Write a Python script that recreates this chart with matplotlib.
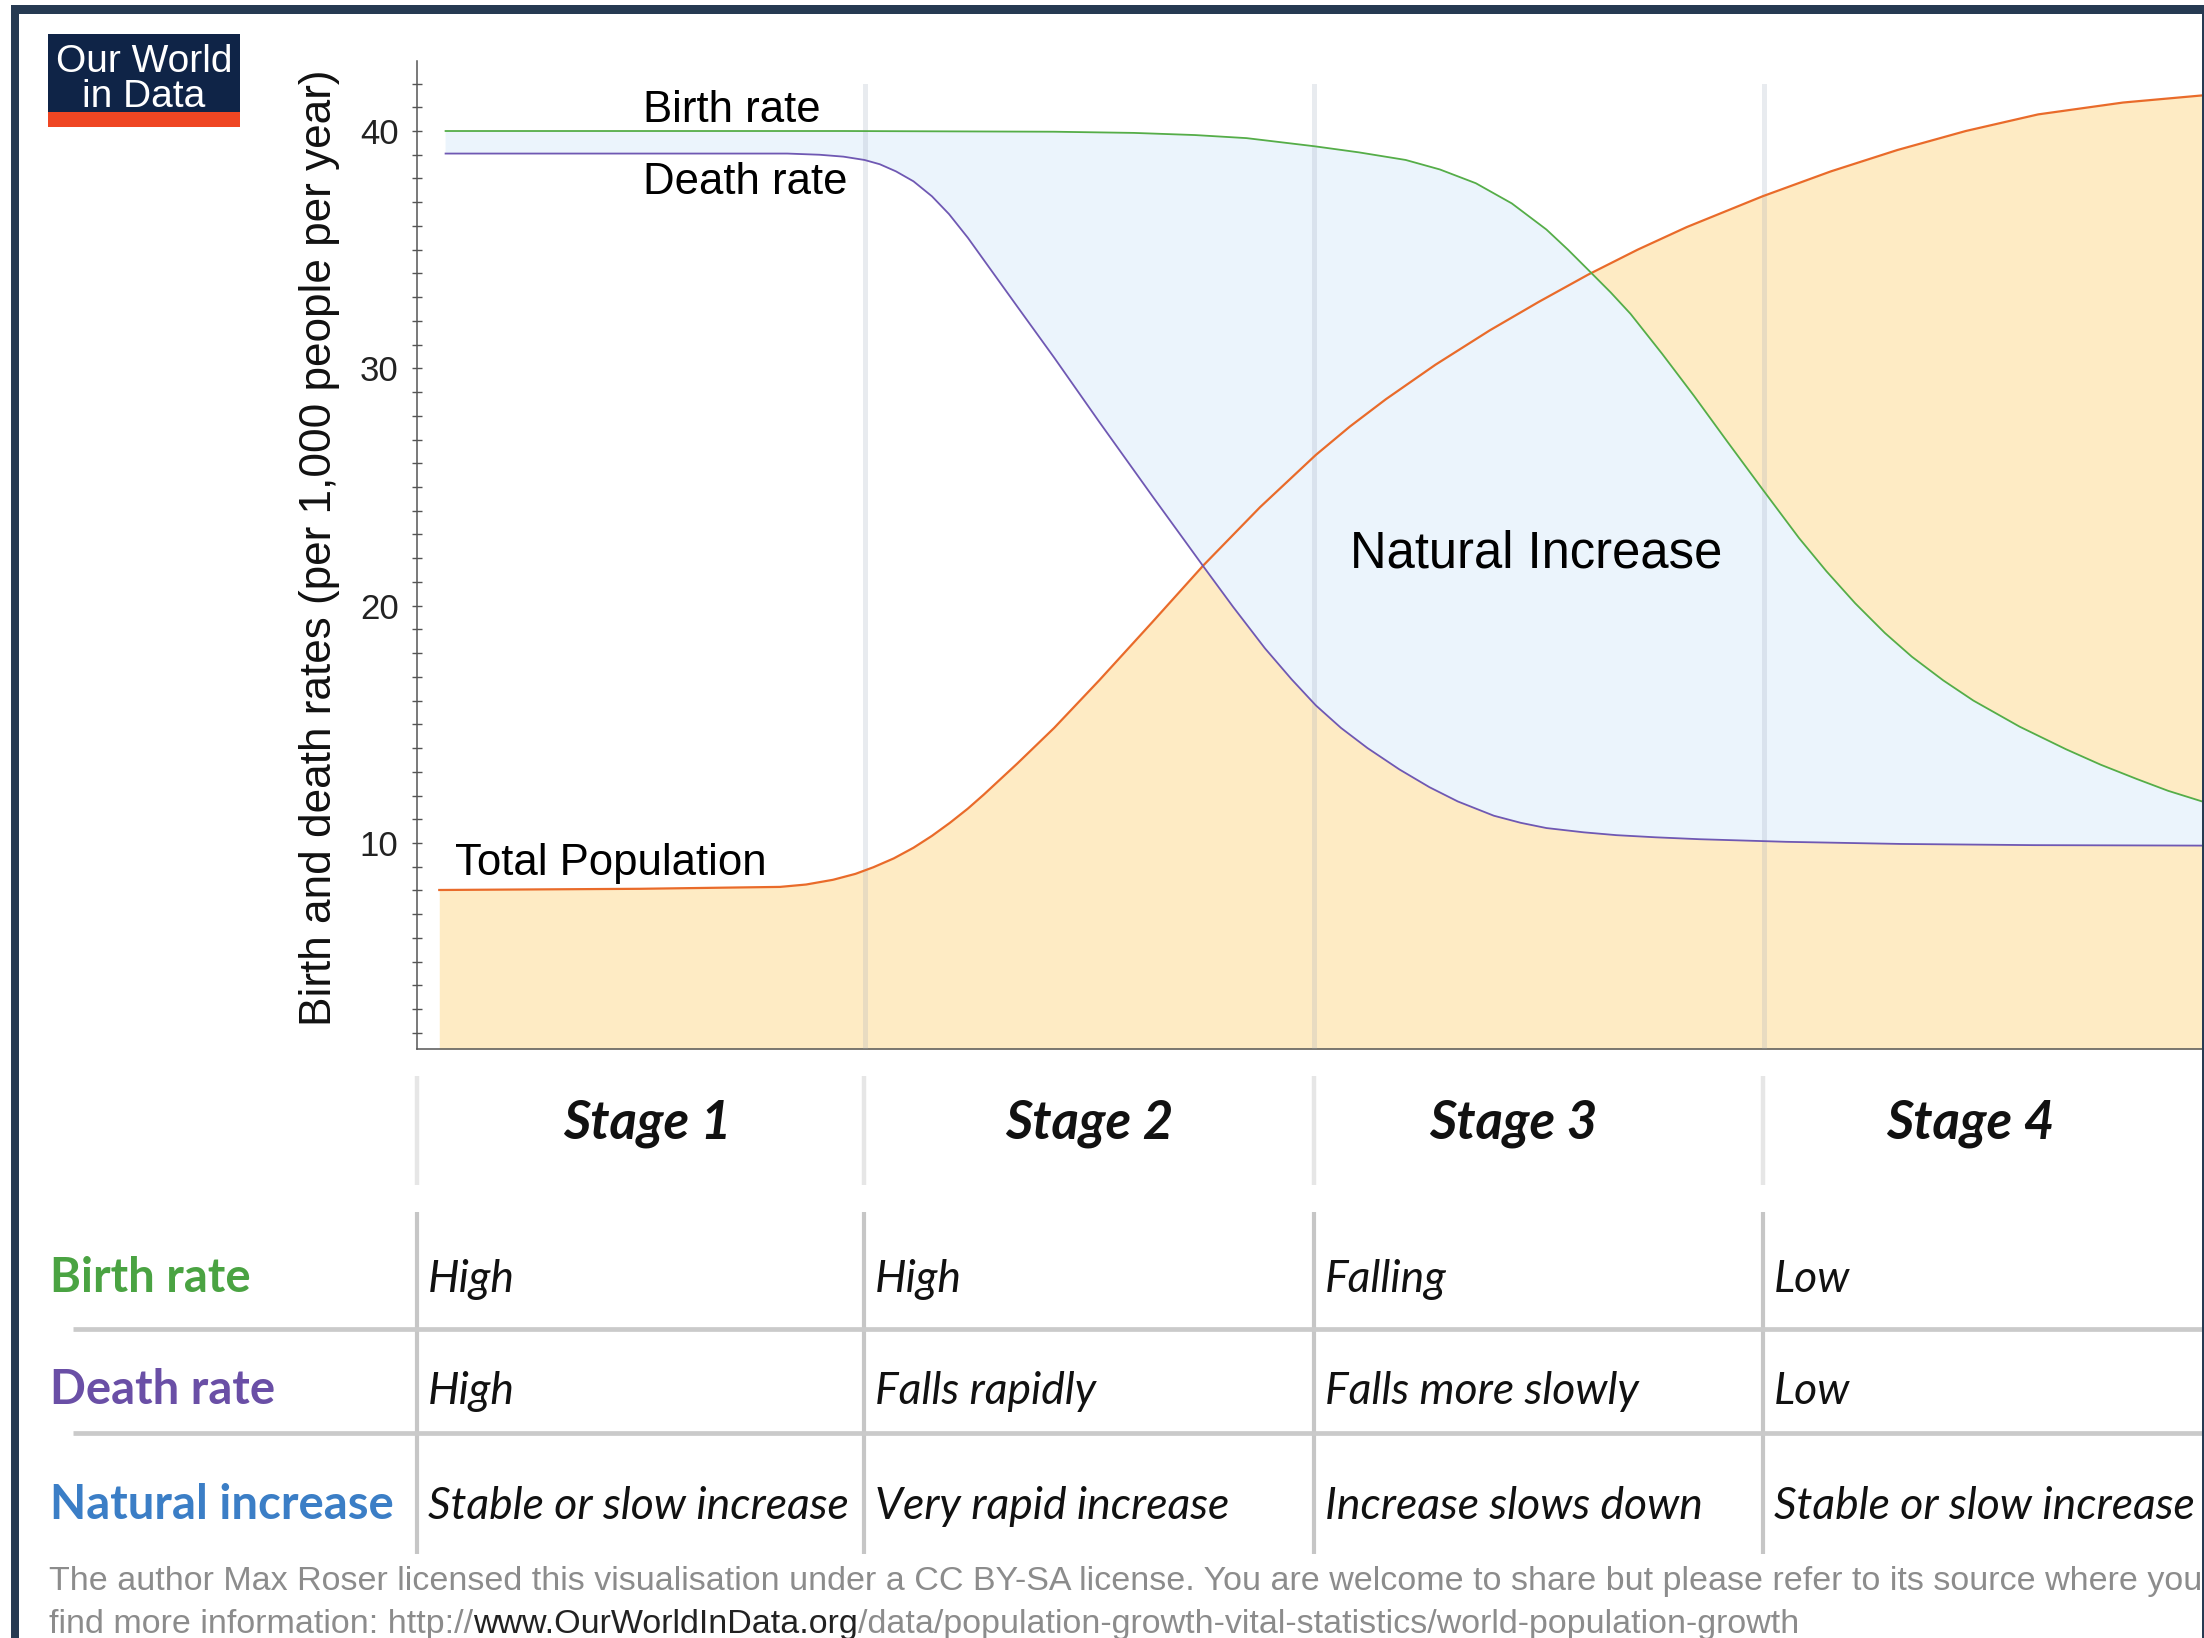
import matplotlib
matplotlib.use('Agg')
import matplotlib.pyplot as plt
from matplotlib import font_manager
from matplotlib.patches import Rectangle
from matplotlib.ticker import FixedLocator, MultipleLocator


# Curves: x = stage position (0..4), y = rate per 1,000 people
birth_x = [0.068, 0.953, 1.422, 1.6, 1.735, 1.85, 2.0, 2.1, 2.204, 2.28, 2.36, 2.44,
           2.517, 2.565, 2.61, 2.66, 2.704, 2.775, 2.845, 2.92, 2.998, 3.079, 3.14,
           3.204, 3.27, 3.33, 3.4, 3.467, 3.57, 3.673, 3.75, 3.83, 3.9, 3.976]
birth_y = [40.0, 40.0, 39.97, 39.92, 39.83, 39.7, 39.36, 39.1, 38.78, 38.38, 37.8, 36.95,
           35.85, 35.0, 34.15, 33.2, 32.3, 30.6, 28.85, 26.9, 24.9, 22.85, 21.45,
           20.1, 18.85, 17.85, 16.85, 16.0, 14.9, 13.95, 13.3, 12.7, 12.2, 11.75]

death_x = [0.068, 0.828, 0.9, 0.953, 1.0, 1.034, 1.07, 1.109, 1.15, 1.188, 1.23, 1.266,
           1.34, 1.422, 1.522, 1.641, 1.754, 1.82, 1.891, 1.95, 2.004, 2.06, 2.119,
           2.19, 2.257, 2.32, 2.4, 2.46, 2.517, 2.6, 2.673, 2.76, 2.857, 3.05, 3.305,
           3.6, 3.976]
death_y = [39.05, 39.05, 39.0, 38.92, 38.78, 38.6, 38.3, 37.88, 37.25, 36.5, 35.5, 34.55,
           32.6, 30.45, 27.75, 24.6, 21.65, 19.95, 18.2, 16.9, 15.8, 14.85, 14.0,
           13.1, 12.35, 11.75, 11.15, 10.85, 10.63, 10.45, 10.33, 10.24, 10.16, 10.05, 9.96,
           9.91, 9.89]

pop_x = [0.054, 0.5, 0.812, 0.87, 0.93, 0.98, 1.02, 1.065, 1.109, 1.15, 1.19, 1.23,
         1.266, 1.34, 1.422, 1.522, 1.64, 1.754, 1.88, 2.004, 2.08, 2.16, 2.27, 2.391,
         2.5, 2.61, 2.72, 2.829, 2.998, 3.15, 3.298, 3.45, 3.611, 3.8, 3.976]
pop_y = [8.02, 8.07, 8.15, 8.25, 8.45, 8.7, 8.98, 9.35, 9.8, 10.3, 10.85, 11.45,
         12.05, 13.35, 14.85, 16.85, 19.3, 21.7, 24.15, 26.35, 27.55, 28.7, 30.15, 31.6,
         32.8, 33.95, 35.0, 35.95, 37.25, 38.3, 39.2, 40.0, 40.7, 41.2, 41.5]

stages = ['Stage 1', 'Stage 2', 'Stage 3', 'Stage 4']
row_labels = ['Birth rate', 'Death rate', 'Natural increase']
cells = [
    ['High', 'High', 'Falling', 'Low'],
    ['High', 'Falls rapidly', 'Falls more slowly', 'Low'],
    ['Stable or slow increase', 'Very rapid increase', 'Increase slows down',
     'Stable or slow increase'],
]
y_ticks = [10, 20, 30, 40]

# colours
green = '#55ad48'
purple = '#6f58b3'
orange = '#e96b2a'
green_txt = '#4aa342'
purple_txt = '#6a4fa6'
blue_txt = '#3b7ec6'
frame_col = '#263a52'


def have(name):
    try:
        font_manager.findfont(font_manager.FontProperties(family=name),
                              fallback_to_default=False)
        return True
    except ValueError:
        return False


sans = 'Liberation Sans'
humanist = 'Lato' if have('Lato') else 'Open Sans'

W, H = 2204, 1638
fig = plt.figure(figsize=(W / 100, H / 100), dpi=100)
fig.patch.set_facecolor('white')

# background axes in pixel units for table, logo and footer
bg = fig.add_axes([0, 0, 1, 1], zorder=0)
bg.set_xlim(0, W)
bg.set_ylim(H, 0)
bg.axis('off')

# main chart
ax_l, ax_r, ax_t, ax_b = 417, 2202, 61, 1049
ax = fig.add_axes([ax_l / W, 1 - ax_b / H, (ax_r - ax_l) / W, (ax_b - ax_t) / H], zorder=1)
ax.set_facecolor('none')
x0, unit = 415, 449.5
ax.set_xlim((ax_l - x0) / unit, (ax_r - x0) / unit)
y_lo, y_hi = 1.32, 42.95
ax.set_ylim(y_lo, y_hi)

ax.fill_between(pop_x, pop_y, y_lo, color='#feebc4', lw=0, zorder=1)
ax.fill(birth_x + death_x[::-1], birth_y + death_y[::-1], color='#ebf4fc', lw=0, zorder=2)
for s in [1, 2, 3]:
    ax.axvline(s, ymin=0, ymax=(ax_b - 86) / (ax_b - ax_t), color='#9aa5b8',
               alpha=0.22, lw=3.6, zorder=3)
ax.plot(pop_x, pop_y, color=orange, lw=1.6, zorder=4)
ax.plot(death_x, death_y, color=purple, lw=1.3, zorder=4)
ax.plot(birth_x, birth_y, color=green, lw=1.3, zorder=4)

for side in ['top', 'right']:
    ax.spines[side].set_visible(False)
for side in ['left', 'bottom']:
    ax.spines[side].set_color('#555555')
    ax.spines[side].set_linewidth(1.1)
ax.set_xticks([])
ax.yaxis.set_major_locator(FixedLocator(y_ticks))
ax.yaxis.set_minor_locator(MultipleLocator(1))
ax.tick_params(axis='y', which='both', direction='inout', length=6.5, width=1.0,
               color='#555555', labelsize=25, pad=10, labelcolor='#222222')
for lab in ax.get_yticklabels():
    lab.set_family(sans)

# labels inside the chart (pixel coordinates)
ax.text(643, 122, 'Birth rate', transform=bg.transData, fontsize=31.5, family=sans,
        va='baseline', zorder=5)
ax.text(643, 194, 'Death rate', transform=bg.transData, fontsize=31.5, family=sans,
        va='baseline', zorder=5)
ax.text(455, 875, 'Total Population', transform=bg.transData, fontsize=31.5, family=sans,
        va='baseline', zorder=5)
ax.text(1536, 568, 'Natural Increase', transform=bg.transData, fontsize=36.5, family=sans,
        ha='center', va='baseline', zorder=5)

bg.text(320, 548, 'Birth and death rates (per 1,000 people per year)', rotation=90,
        fontsize=31.8, family=sans, ha='center', va='center', color='#111111')

# logo
bg.add_patch(Rectangle((48, 34), 192, 78, color='#0f2447', lw=0))
bg.add_patch(Rectangle((48, 112), 192, 15, color='#ef4623', lw=0))
bg.text(144, 72, 'Our World', color='white', fontsize=28, family=sans,
        ha='center', va='baseline')
bg.text(144, 107, 'in Data', color='white', fontsize=28, family=sans,
        ha='center', va='baseline')

# table
dividers = [417, 864, 1314, 1763]
header_x = [647, 1089, 1513, 1970]
row_base = [1292, 1404, 1519]
for xd in dividers:
    bg.plot([xd, xd], [1076, 1185], color='#e6e6e6', lw=3.2, solid_capstyle='butt')
    bg.plot([xd, xd], [1212, 1554], color='#c6c6c6', lw=3.0, solid_capstyle='butt')
for yl in [1329, 1433]:
    bg.plot([73, W], [yl, yl], color='#cacaca', lw=3.4, solid_capstyle='butt')

for hx, name in zip(header_x, stages):
    bg.text(hx, 1139, name, ha='center', va='baseline', fontsize=38, family=humanist,
            weight='bold', style='italic', color='#111111')

for yb, name, col in zip(row_base, row_labels, [green_txt, purple_txt, blue_txt]):
    bg.text(50, yb, name, color=col, fontsize=34, family=humanist, weight='bold',
            va='baseline')

for yb, row in zip(row_base, cells):
    for xd, txt in zip(dividers, row):
        bg.text(xd + 11, yb, txt, fontsize=32, family=humanist, style='italic',
                va='baseline', color='#111111')

# footer, sized so the first line spans the picture
renderer = fig.canvas.get_renderer()
grey = '#8c8c8c'
line1 = ('The author Max Roser licensed this visualisation under a CC BY-SA license. '
         'You are welcome to share but please refer to its source where you')
t1 = bg.text(49, 1590, line1, color=grey, fontsize=22, family=sans, va='baseline')
w1 = t1.get_window_extent(renderer=renderer).width
fsize = 22 * 2146 / w1
t1.set_fontsize(fsize)

parts = [('find more information: http://', grey), ('www.OurWorldInData.org', '#222222'),
         ('/data/population-growth-vital-statistics/world-population-growth', grey)]
xp = 49
for s, c in parts:
    t = bg.text(xp, 1633, s, color=c, fontsize=fsize, family=sans, va='baseline')
    xp += t.get_window_extent(renderer=renderer).width

# frame of the screenshot
for rect in [Rectangle((11, 5), W - 11, 8.5), Rectangle((11, 5), 8, H),
             Rectangle((2202, 13), 2, H)]:
    rect.set_color(frame_col)
    rect.set_linewidth(0)
    rect.set_transform(bg.transData)
    rect.set_zorder(10)
    fig.add_artist(rect)

fig.savefig('out.png', dpi=100, facecolor='white')
